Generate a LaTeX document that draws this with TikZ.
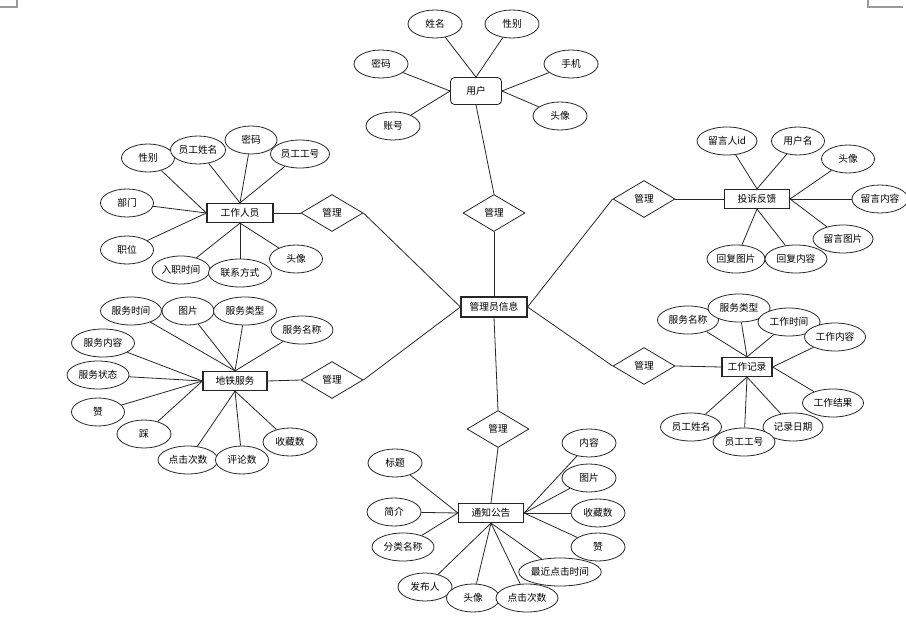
\documentclass[tikz,border=0pt]{standalone}
\usepackage{fontspec}
\newfontfamily\cjk{Noto Sans CJK SC}
\usetikzlibrary{shapes.geometric,backgrounds}
\begin{document}
\begin{tikzpicture}[x=0.75pt,y=-0.75pt,
  every node/.style={font=\cjk\fontsize{7.3}{8}\selectfont, text=black},
  attr/.style={ellipse, draw=black!85, fill=white, line width=0.6pt, minimum width=#1*0.75pt, minimum height=21pt, inner sep=0pt},
  ent/.style={rectangle, draw=black!85, fill=white, line width=0.9pt, minimum width=#1*0.75pt, minimum height=14.25pt, inner sep=0pt},
  rel/.style={diamond, draw=black!85, fill=white, line width=0.6pt, minimum width=46.5pt, minimum height=27.75pt, inner sep=0pt},
  link/.style={draw=black!85, line width=0.6pt},
  cropmark/.style={draw=black!40, line width=0.8pt}]
\useasboundingbox (0,0) rectangle (906,620);
% page corner marks
\coordinate (tl1) at (17,0); \coordinate (tl2) at (17,7); \coordinate (tl3) at (0,7);
\coordinate (tr1) at (868,0); \coordinate (tr2) at (868,7); \coordinate (tr3) at (903,7);
\draw[cropmark] (tl1) -- (tl2) -- (tl3);
\draw[cropmark] (tr1) -- (tr2) -- (tr3);

% central
\node[ent=66, minimum height=15pt] (m) at (494,307) {管理员信息};
\node[rel] (dT) at (494,213) {管理};
\node[rel] (dLT) at (332,213) {管理};
\node[rel] (dRT) at (644,199) {管理};
\node[rel] (dLB) at (332,380) {管理};
\node[rel] (dRB) at (644,366) {管理};
\node[rel] (dB) at (498,429) {管理};

% user
\node[rectangle, rounded corners=3pt, draw=black!85, fill=white, line width=0.6pt, minimum width=38.25pt, minimum height=20.25pt, inner sep=0pt] (u) at (476,91) {用户};
\node[attr=54] (u1) at (435,24) {姓名};
\node[attr=54] (u2) at (512,24) {性别};
\node[attr=54] (u3) at (381,64) {密码};
\node[attr=54] (u4) at (571,64) {手机};
\node[attr=54] (u5) at (393,126) {账号};
\node[attr=54] (u6) at (560,116) {头像};

% staff
\node[ent=66] (wr) at (240,213) {工作人员};
\node[attr=53] (w1) at (148,158) {性别};
\node[attr=53] (w2) at (198,150) {员工姓名};
\node[attr=52] (w3) at (251,140) {密码};
\node[attr=59] (w4) at (300,154) {员工工号};
\node[attr=53] (w5) at (127,203) {部门};
\node[attr=53] (w6) at (127,250) {职位};
\node[attr=58] (w7) at (181,270) {入职时间};
\node[attr=63] (w8) at (240,273) {联系方式};
\node[attr=53] (w9) at (296,259) {头像};

% metro service
\node[ent=64] (ds) at (235,381) {地铁服务};
\node[attr=61] (s1) at (131,311) {服务时间};
\node[attr=52] (s2) at (188,311) {图片};
\node[attr=63] (s3) at (245,311) {服务类型};
\node[attr=62] (s4) at (302,330) {服务名称};
\node[attr=63] (s5) at (103,343) {服务内容};
\node[attr=62] (s6) at (98,375) {服务状态};
\node[attr=53] (s7) at (98,412) {赞};
\node[attr=54] (s8) at (144,434) {踩};
\node[attr=60] (s9) at (188,460) {点击次数};
\node[attr=53] (s10) at (242,460) {评论数};
\node[attr=54] (s11) at (290,442) {收藏数};

% complaint feedback
\node[ent=65] (ts) at (757,199) {投诉反馈};
\node[attr=60] (t1) at (727,141) {留言人id};
\node[attr=53] (t2) at (798,141) {用户名};
\node[attr=53] (t3) at (848,159) {头像};
\node[attr=56] (t4) at (880,199) {留言内容};
\node[attr=60] (t5) at (843,239) {留言图片};
\node[attr=58] (t6) at (736,259) {回复图片};
\node[attr=62] (t7) at (796,259) {回复内容};

% work record
\node[ent=50] (gj) at (747,367) {工作记录};
\node[attr=61] (g1) at (688,320) {服务名称};
\node[attr=62] (g2) at (739,308) {服务类型};
\node[attr=62] (g3) at (789,322) {工作时间};
\node[attr=61] (g4) at (835,337) {工作内容};
\node[attr=61] (g5) at (833,403) {工作结果};
\node[attr=61] (g6) at (691,427) {员工姓名};
\node[attr=60] (g8) at (793,427) {记录日期};
\node[attr=62] (g7) at (744,442) {员工工号};

% notice
\node[ent=65] (tz) at (491,513) {通知公告};
\node[attr=54] (n1) at (395,463) {标题};
\node[attr=54] (n2) at (394,512) {简介};
\node[attr=62] (n3) at (403,547) {分类名称};
\node[attr=54] (n4) at (425,587) {发布人};
\node[attr=53] (n5) at (473,598) {头像};
\node[attr=81] (n7) at (560,572) {最近点击时间};
\node[attr=62] (n6) at (527,598) {点击次数};
\node[attr=54] (n8) at (598,547) {赞};
\node[attr=54] (n9) at (598,513) {收藏数};
\node[attr=54] (n10) at (589,478) {图片};
\node[attr=54] (n11) at (589,443) {内容};

\begin{pgfonlayer}{background}
\foreach \a/\b in {u1/u.north, u2/u.north, u3/u.west, u5/u.west, u4/u.east, u6/u.east,
  w1/wr.west, w5/wr.west, w6/wr.west, w2/wr.north, w3/wr.north, w4/wr.north,
  w7/wr.south, w8/wr.south, w9/wr.south,
  s1/ds.north, s2/ds.north, s3/ds.north, s4/ds.north,
  s5/ds.west, s6/ds.west, s7/ds.west, s8/ds.west,
  s9/ds.south, s10/ds.south, s11/ds.south,
  t1/ts.north, t2/ts.north, t3/ts.east, t4/ts.east, t5/ts.east, t6/ts.south, t7/ts.south,
  g1/gj.north, g2/gj.north, g3/gj.north, g4/gj.east, g5/gj.east,
  g6/gj.south, g7/gj.south, g8/gj.south,
  n1/tz.west, n2/tz.west, n3/tz.west, n4/tz.south, n5/tz.south, n6/tz.south, n7/tz.south,
  n8/tz.east, n9/tz.east, n10/tz.east, n11/tz.east}
  \draw[link] (\a) -- (\b);
\draw[link] (u.south) -- (dT.north);
\draw[link] (dT.south) -- (m.north);
\draw[link] (dLT.east) -- (m.west);
\draw[link] (dLB.east) -- (m.west);
\draw[link] (dRT.west) -- (m.east);
\draw[link] (dRB.west) -- (m.east);
\draw[link] (dB.north) -- (m.south);
\draw[link] (dB.south) -- (tz.north);
\draw[link] (wr.east) -- (dLT.west);
\draw[link] (ds.east) -- (dLB.west);
\draw[link] (dRT.east) -- (ts.west);
\draw[link] (dRB.east) -- (gj.west);
\end{pgfonlayer}
\end{tikzpicture}
\end{document}
